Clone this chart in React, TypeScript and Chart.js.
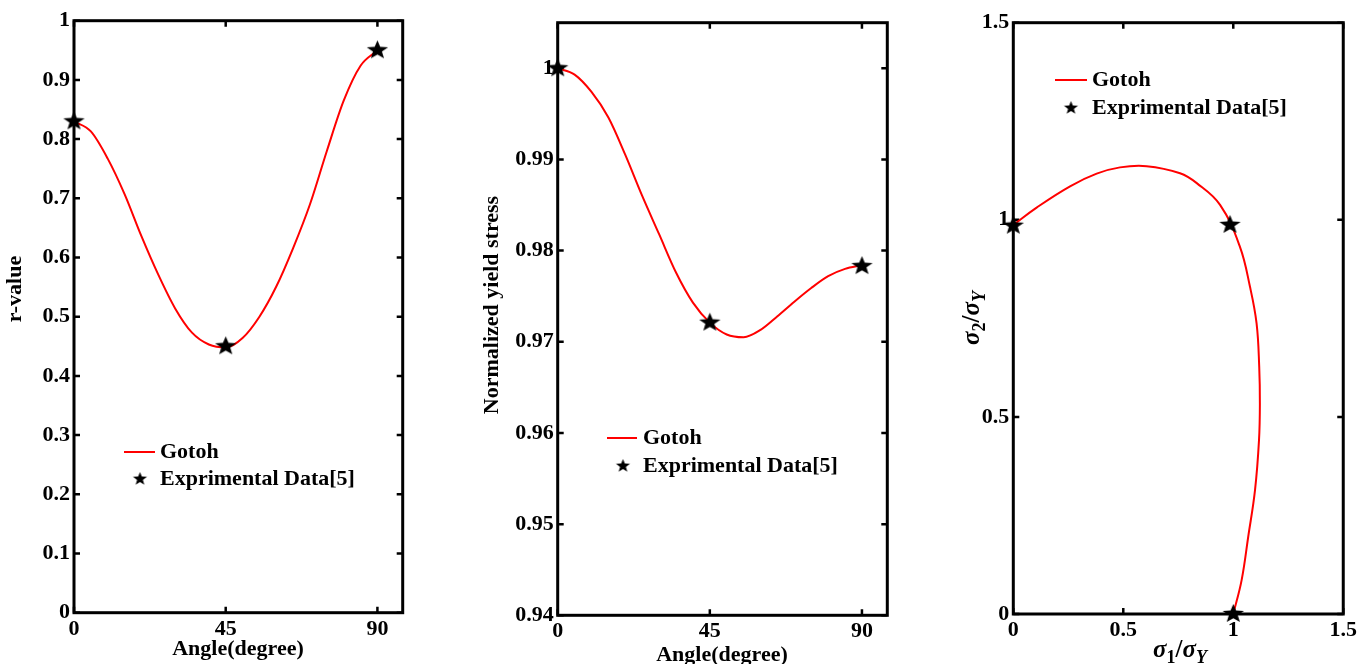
import React, { useEffect, useRef } from "react";
import { Chart, registerables } from "chart.js";

Chart.register(...registerables);

// ---------------- data ----------------
const angleDeg = [0, 5, 10, 15, 20, 25, 30, 35, 40, 45, 50, 55, 60, 65, 70, 75, 80, 85, 90];
const rValueGotoh = [0.83, 0.813, 0.767, 0.707, 0.636, 0.571, 0.514, 0.473, 0.453, 0.448, 0.464, 0.5, 0.551, 0.616, 0.69, 0.78, 0.865, 0.924, 0.95];
const yieldGotoh = [1.0, 0.9993, 0.9974, 0.9946, 0.9905, 0.986, 0.9818, 0.9776, 0.9743, 0.9721, 0.9708, 0.9705, 0.9713, 0.9728, 0.9744, 0.9759, 0.9772, 0.978, 0.9784];

const expAngle = [0, 45, 90];
const expRValue = [0.83, 0.45, 0.95];
const expYield = [1.0, 0.9721, 0.9783];

const locusSigma1 = [0, 0.106, 0.258, 0.379, 0.485, 0.606, 0.758, 0.834, 0.94, 1.03, 1.076, 1.106, 1.118, 1.121, 1.117, 1.099, 1.068, 1.038, 1.0];
const locusSigma2 = [0.987, 1.031, 1.085, 1.117, 1.133, 1.136, 1.118, 1.093, 1.038, 0.932, 0.83, 0.737, 0.627, 0.534, 0.441, 0.315, 0.196, 0.086, 0];
const expSigma1 = [0, 0.985, 1.0];
const expSigma2 = [0.985, 0.987, 0];

const angleTicks = [0, 45, 90];
const rTicks = [0, 0.1, 0.2, 0.3, 0.4, 0.5, 0.6, 0.7, 0.8, 0.9, 1];
const yieldTicks = [0.94, 0.95, 0.96, 0.97, 0.98, 0.99, 1];
const locusTicks = [0, 0.5, 1, 1.5];

const lineLabel = "Gotoh";
const expLabel = "Exprimental Data[5]";

// ---------------- styles ----------------
const FONT = "'Liberation Serif', 'Times New Roman', serif";
const RED = "#ff0000";
const INK = "#000000";
const W = 1360;
const H = 664;

type Seg = { text: string; italic?: boolean; sub?: boolean };

function makeStar(R: number, sx: number) {
  const w = Math.ceil(2 * R * sx) + 2;
  const h = Math.ceil(2 * R) + 2;
  const c = document.createElement("canvas");
  c.width = w;
  c.height = h;
  const ctx = c.getContext("2d")!;
  ctx.fillStyle = "#000";
  ctx.beginPath();
  for (let i = 0; i < 10; i++) {
    const a = -Math.PI / 2 + (i * Math.PI) / 5;
    const r = i % 2 === 0 ? R : R * 0.42;
    const x = w / 2 + r * Math.cos(a) * sx;
    const y = h / 2 + r * Math.sin(a);
    if (i === 0) ctx.moveTo(x, y);
    else ctx.lineTo(x, y);
  }
  ctx.closePath();
  ctx.fill();
  return c;
}

function drawRich(ctx: CanvasRenderingContext2D, segs: Seg[], cx: number, cy: number, rotate: boolean, size: number) {
  const fontFor = (s: Seg) => `${s.italic ? "italic " : ""}bold ${s.sub ? Math.round(size * 0.7) : size}px ${FONT}`;
  ctx.save();
  ctx.translate(cx, cy);
  if (rotate) ctx.rotate(-Math.PI / 2);
  ctx.fillStyle = INK;
  ctx.textBaseline = "middle";
  ctx.textAlign = "left";
  const widths = segs.map((s) => {
    ctx.font = fontFor(s);
    return ctx.measureText(s.text).width;
  });
  const total = widths.reduce((a, b) => a + b, 0);
  let x = -total / 2;
  segs.forEach((s, i) => {
    ctx.font = fontFor(s);
    ctx.fillText(s.text, x, s.sub ? size * 0.3 : 0);
    x += widths[i];
  });
  ctx.restore();
}

type Panel = {
  lineX: number[];
  lineY: number[];
  expX: number[];
  expY: number[];
  xMin: number;
  xMax: number;
  yMin: number;
  yMax: number;
  xTicks: number[];
  yTicks: number[];
  area: { left: number; top: number; right: number; bottom: number };
  xTitle: Seg[];
  yTitle: Seg[];
  xTitlePos: [number, number];
  yTitlePos: [number, number];
  titleSize: number;
  legend: { l0: number; l1: number; star: number; text: number; row1: number; row2: number };
  monotone: boolean;
};

const Y_AXIS_W = 60;
const X_AXIS_H = 40;

function buildConfig(p: Panel, dataStar: HTMLCanvasElement, legendStar: HTMLCanvasElement): any {
  const tickFont = { family: FONT, size: 22, weight: "bold" as const };
  const lineData = p.lineX.map((x, i) => ({ x, y: p.lineY[i] }));
  const expData = p.expX.map((x, i) => ({ x, y: p.expY[i] }));

  const framePlugin = {
    id: "frameAndDecor",
    beforeDatasetsDraw(chart: any) {
      const { ctx, chartArea } = chart;
      const { left, top, right, bottom } = chartArea;
      const xs = chart.scales.x;
      const ys = chart.scales.y;
      ctx.save();
      ctx.strokeStyle = INK;
      ctx.lineWidth = 3;
      ctx.lineCap = "butt";
      ctx.strokeRect(left, top, right - left, bottom - top);
      ctx.lineWidth = 2.5;
      const tl = 6;
      ctx.beginPath();
      p.xTicks.forEach((v) => {
        const px = xs.getPixelForValue(v);
        ctx.moveTo(px, bottom);
        ctx.lineTo(px, bottom - tl);
        ctx.moveTo(px, top);
        ctx.lineTo(px, top + tl);
      });
      p.yTicks.forEach((v) => {
        const py = ys.getPixelForValue(v);
        ctx.moveTo(left, py);
        ctx.lineTo(left + tl, py);
        ctx.moveTo(right, py);
        ctx.lineTo(right - tl, py);
      });
      ctx.stroke();
      ctx.restore();
    },
    afterDraw(chart: any) {
      const { ctx } = chart;
      drawRich(ctx, p.xTitle, p.xTitlePos[0], p.xTitlePos[1], false, p.titleSize);
      drawRich(ctx, p.yTitle, p.yTitlePos[0], p.yTitlePos[1], true, p.titleSize);
      // legend
      const ds = chart.data.datasets;
      const lineDs = ds.find((d: any) => d.showLine);
      const starDs = ds.find((d: any) => !d.showLine);
      const L = p.legend;
      ctx.save();
      ctx.strokeStyle = lineDs.borderColor;
      ctx.lineWidth = lineDs.borderWidth;
      ctx.beginPath();
      ctx.moveTo(L.l0, L.row1);
      ctx.lineTo(L.l1, L.row1);
      ctx.stroke();
      ctx.drawImage(legendStar, L.star - legendStar.width / 2, L.row2 - legendStar.height / 2);
      ctx.fillStyle = INK;
      ctx.font = `bold 22px ${FONT}`;
      ctx.textBaseline = "middle";
      ctx.textAlign = "left";
      ctx.fillText(lineDs.label, L.text, L.row1);
      ctx.fillText(starDs.label, L.text, L.row2);
      ctx.restore();
    },
  };

  const lineDataset: any = {
    label: lineLabel,
    data: lineData,
    showLine: true,
    borderColor: RED,
    borderWidth: 2,
    pointRadius: 0,
    fill: false,
    order: 1,
    clip: false,
  };
  if (p.monotone) lineDataset.cubicInterpolationMode = "monotone";
  else lineDataset.tension = 0.4;

  return {
    type: "scatter",
    data: {
      datasets: [
        {
          label: expLabel,
          data: expData,
          showLine: false,
          pointStyle: dataStar,
          pointRadius: 10,
          order: 0,
          clip: false,
        },
        lineDataset,
      ],
    },
    options: {
      responsive: false,
      animation: false,
      events: [],
      devicePixelRatio: 1,
      layout: {
        padding: {
          left: p.area.left - Y_AXIS_W,
          top: p.area.top,
          right: W - p.area.right,
          bottom: H - p.area.bottom - X_AXIS_H,
        },
      },
      plugins: {
        legend: { display: false },
        tooltip: { enabled: false },
        title: { display: false },
      },
      scales: {
        x: {
          type: "linear",
          min: p.xMin,
          max: p.xMax,
          grid: { display: false, drawTicks: false },
          border: { display: false },
          ticks: {
            font: tickFont,
            color: INK,
            padding: 3,
            autoSkip: false,
            maxRotation: 0,
            callback: (v: any) => String(v),
          },
          afterBuildTicks: (s: any) => {
            s.ticks = p.xTicks.map((v) => ({ value: v }));
          },
          afterFit: (s: any) => {
            s.height = X_AXIS_H;
          },
        },
        y: {
          type: "linear",
          min: p.yMin,
          max: p.yMax,
          grid: { display: false, drawTicks: false },
          border: { display: false },
          ticks: {
            font: tickFont,
            color: INK,
            padding: 4,
            autoSkip: false,
            callback: (v: any) => String(v),
          },
          afterBuildTicks: (s: any) => {
            s.ticks = p.yTicks.map((v) => ({ value: v }));
          },
          afterFit: (s: any) => {
            s.width = Y_AXIS_W;
          },
        },
      },
    },
    plugins: [framePlugin],
  };
}

const panels: Panel[] = [
  {
    lineX: angleDeg,
    lineY: rValueGotoh,
    expX: expAngle,
    expY: expRValue,
    xMin: 0,
    xMax: 97.5,
    yMin: 0,
    yMax: 1,
    xTicks: angleTicks,
    yTicks: rTicks,
    area: { left: 74, top: 20.7, right: 402.7, bottom: 612.7 },
    xTitle: [{ text: "Angle(degree)" }],
    yTitle: [{ text: "r-value" }],
    xTitlePos: [238, 649],
    yTitlePos: [15, 289],
    titleSize: 22,
    legend: { l0: 124, l1: 155, star: 140, text: 160, row1: 452, row2: 479 },
    monotone: true,
  },
  {
    lineX: angleDeg,
    lineY: yieldGotoh,
    expX: expAngle,
    expY: expYield,
    xMin: 0,
    xMax: 97.5,
    yMin: 0.94,
    yMax: 1.005,
    xTicks: angleTicks,
    yTicks: yieldTicks,
    area: { left: 557.7, top: 22.7, right: 887.3, bottom: 615.3 },
    xTitle: [{ text: "Angle(degree)" }],
    yTitle: [{ text: "Normalized yield stress" }],
    xTitlePos: [722, 655],
    yTitlePos: [492, 305],
    titleSize: 22,
    legend: { l0: 607, l1: 637, star: 623, text: 643, row1: 438, row2: 466 },
    monotone: true,
  },
  {
    lineX: locusSigma1,
    lineY: locusSigma2,
    expX: expSigma1,
    expY: expSigma2,
    xMin: 0,
    xMax: 1.5,
    yMin: 0,
    yMax: 1.5,
    xTicks: locusTicks,
    yTicks: locusTicks,
    area: { left: 1013.3, top: 22.7, right: 1344, bottom: 614 },
    xTitle: [
      { text: "σ", italic: true },
      { text: "1", sub: true },
      { text: "/" },
      { text: "σ", italic: true },
      { text: "Y", italic: true, sub: true },
    ],
    yTitle: [
      { text: "σ", italic: true },
      { text: "2", sub: true },
      { text: "/" },
      { text: "σ", italic: true },
      { text: "Y", italic: true, sub: true },
    ],
    xTitlePos: [1180, 651],
    yTitlePos: [973, 318],
    titleSize: 25,
    legend: { l0: 1055, l1: 1087, star: 1071, text: 1092, row1: 80, row2: 108 },
    monotone: false,
  },
];

export default function App() {
  const r1 = useRef<HTMLCanvasElement>(null);
  const r2 = useRef<HTMLCanvasElement>(null);
  const r3 = useRef<HTMLCanvasElement>(null);

  useEffect(() => {
    const dataStar = makeStar(10, 1.12);
    const legendStar = makeStar(7, 1.05);
    const refs = [r1, r2, r3];
    const charts = panels.map((p, i) => new Chart(refs[i].current as HTMLCanvasElement, buildConfig(p, dataStar, legendStar)));
    return () => charts.forEach((c) => c.destroy());
  }, []);

  const canvasStyle: React.CSSProperties = { position: "absolute", left: 0, top: 0, width: W, height: H };
  return (
    <div style={{ position: "fixed", left: 0, top: 0, width: W, height: H, background: "#fff", overflow: "hidden" }}>
      <canvas ref={r1} width={W} height={H} style={canvasStyle} />
      <canvas ref={r2} width={W} height={H} style={canvasStyle} />
      <canvas ref={r3} width={W} height={H} style={canvasStyle} />
    </div>
  );
}
